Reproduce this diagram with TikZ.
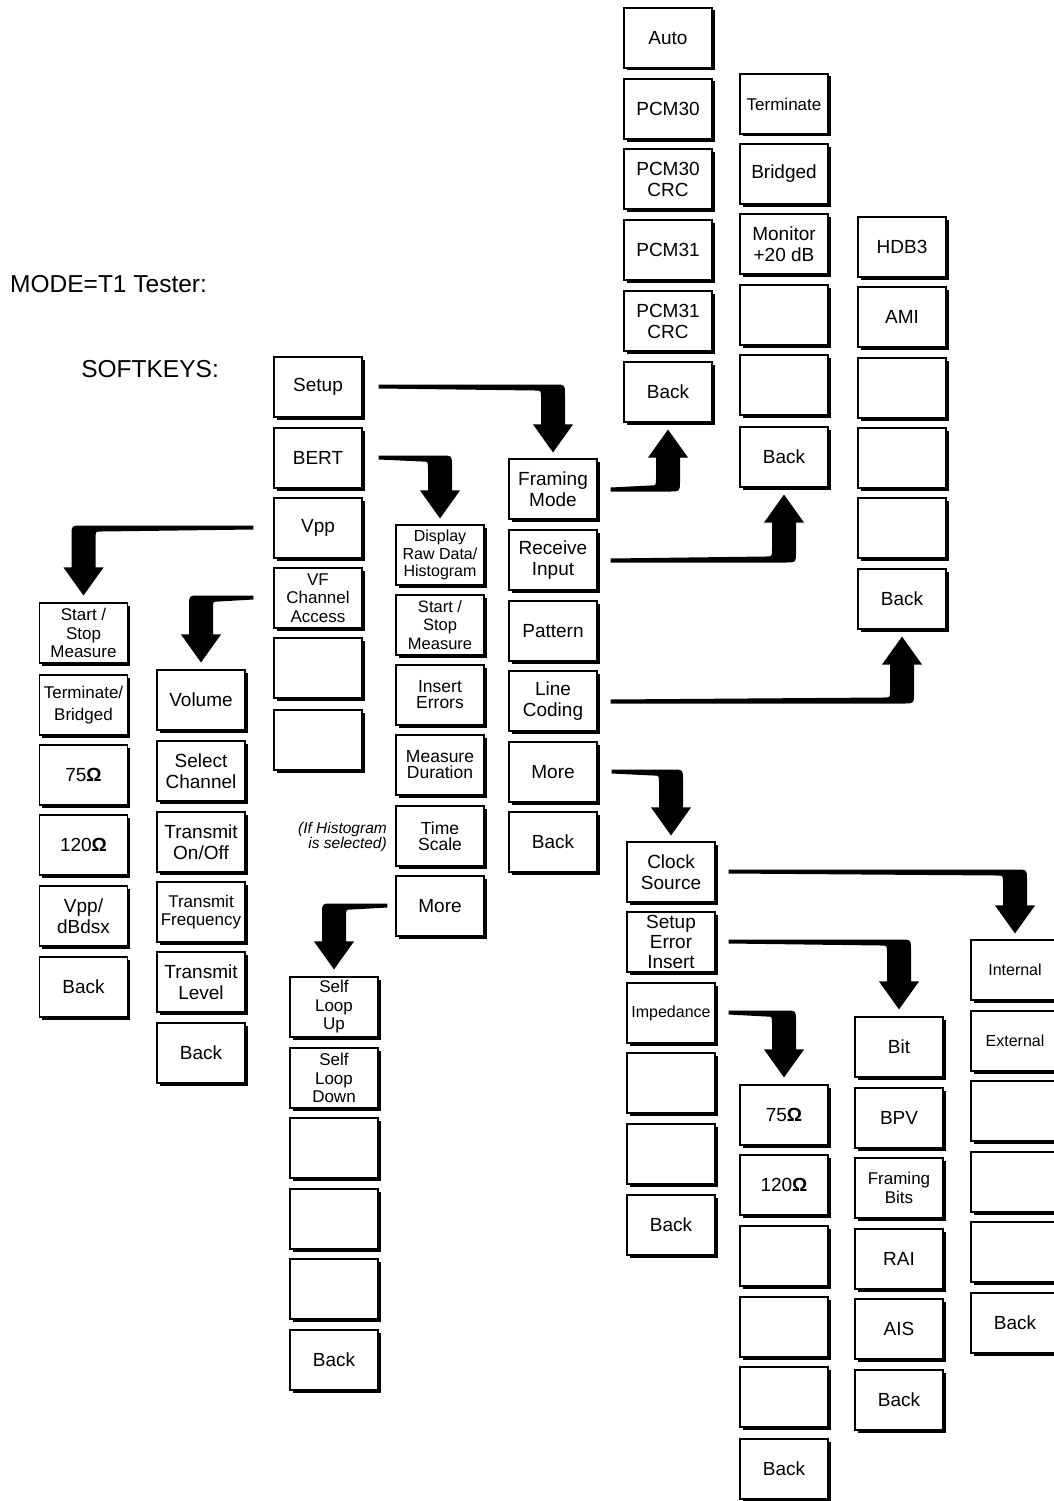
\documentclass[tikz,border=0pt]{standalone}
\usepackage{fontspec}
\setmainfont{Liberation Sans}
\usetikzlibrary{calc,shadows}
% block arrow: #1 = horizontal sign (+1 right, -1 left), #2 = vertical sign (canvas: -1 down, +1 up), #3 start, #4 tip
\newcommand\barrow[4]{%
\fill let \p1=(#3), \p2=(#4) in
 (\x1,{\y1-(#2)*2.5pt}) -- ({\x2+(#1)*2pt},{\y1-(#2)*2.5pt})
 .. controls ({\x2+(#1)*12pt},{\y1-(#2)*2.5pt}) .. ({\x2+(#1)*12pt},{\y1+(#2)*8pt})
 -- ({\x2+(#1)*12pt},{\y2-(#2)*28pt}) -- ({\x2+(#1)*20pt},{\y2-(#2)*28pt}) -- (\x2,\y2)
 -- ({\x2-(#1)*20pt},{\y2-(#2)*28pt}) -- ({\x2-(#1)*12pt},{\y2-(#2)*28pt})
 -- ({\x2-(#1)*12pt},{\y1+(#2)*10pt})
 .. controls ({\x2-(#1)*12pt},{\y1+(#2)*3.5pt}) .. ({\x2-(#1)*18pt},{\y1+(#2)*3.5pt})
 -- (\x1,{\y1+(#2)*1.5pt}) -- cycle;}
\begin{document}
\begin{tikzpicture}[x=1pt,y=-1pt,
  key/.style={draw=black, line width=1.1pt, fill=white, minimum width=88pt, minimum height=60pt,
    inner sep=1pt, align=center,
    drop shadow={shadow xshift=2.5pt,shadow yshift=-2.5pt,opacity=1,fill=black},
    font=\fontsize{19}{21}\selectfont},
  small/.style={font=\fontsize{17}{18.5}\selectfont},
  smaller/.style={font=\fontsize{16}{17.5}\selectfont},
  tight/.style={font=\fontsize{17.5}{16}\selectfont},
  label/.style={font=\fontsize{24.5}{28}\selectfont, inner sep=0pt},
  note/.style={font=\fontsize{15.5}{13.5}\selectfont\itshape, align=right, inner sep=0pt}]
\useasboundingbox (0,0) rectangle (1053,1501);

\node[label, anchor=base west] (mode) at (10,292) {MODE=T1 Tester:};
\node[label, anchor=base east] (softkeys) at (219,377) {SOFTKEYS:};

% main softkeys
\node[key] (m1) at (318,387) {Setup};
\node[key] (m2) at (318,458) {BERT};
\node[key] (m3) at (318,528) {Vpp};
\node[key, small] (m4) at (318,598) {VF\\Channel\\Access};
\node[key] (m5) at (318,668) {};
\node[key] (m6) at (318,740) {};

% framing mode column
\node[key] (a1) at (668,38) {Auto};
\node[key] (a2) at (668,109) {PCM30};
\node[key] (a3) at (668,179) {PCM30\\CRC};
\node[key] (a4) at (668,250) {PCM31};
\node[key] (a5) at (668,321) {PCM31\\CRC};
\node[key] (a6) at (668,392) {Back};

% receive input column
\node[key, small] (t1) at (784,104) {Terminate};
\node[key] (t2) at (784,174) {Bridged};
\node[key] (t3) at (784,244) {Monitor\\+20 dB};
\node[key] (t4) at (784,315) {};
\node[key] (t5) at (784,385) {};
\node[key] (t6) at (784,457) {Back};

% line coding column
\node[key] (h1) at (902,247) {HDB3};
\node[key] (h2) at (902,317) {AMI};
\node[key] (h3) at (902,388) {};
\node[key] (h4) at (902,458) {};
\node[key] (h5) at (902,528) {};
\node[key] (h6) at (902,599) {Back};

% setup column
\node[key] (f1) at (553,489) {Framing\\Mode};
\node[key] (f2) at (553,560) {Receive\\Input};
\node[key] (f3) at (553,631) {Pattern};
\node[key] (f4) at (553,701) {Line\\Coding};
\node[key] (f5) at (553,772) {More};
\node[key] (f6) at (553,842) {Back};

% BERT column
\node[key, smaller] (b1) at (440,555) {Display\\Raw Data/\\Histogram};
\node[key, font=\fontsize{16.5}{18.5}\selectfont] (b2) at (440,625) {Start /\\Stop\\Measure};
\node[key, tight] (b3) at (440,695) {Insert\\Errors};
\node[key, tight] (b4) at (440,765) {Measure\\Duration};
\node[key, tight] (b5) at (440,836) {Time\\Scale};
\node[key] (b6) at (440,906) {More};
\node[note, anchor=north east] (hnote) at (387,822) {(If Histogram\\is selected)};

% Vpp column
\node[key, font=\fontsize{17}{18.5}\selectfont] (v1) at (83.5,633) {Start /\\Stop\\Measure};
\node[key, font=\fontsize{17}{21.5}\selectfont] (v2) at (83.5,705) {Terminate/\\Bridged};
\node[key] (v3) at (83.5,775) {75{\bfseries Ω}};
\node[key] (v4) at (83.5,845) {120{\bfseries Ω}};
\node[key] (v5) at (83.5,916) {Vpp/\\dBdsx};
\node[key] (v6) at (83.5,987) {Back};

% VF column
\node[key] (vf1) at (201,700) {Volume};
\node[key] (vf2) at (201,771) {Select\\Channel};
\node[key] (vf3) at (201,842) {Transmit\\On/Off};
\node[key, small] (vf4) at (201,912) {Transmit\\Frequency};
\node[key] (vf5) at (201,982) {Transmit\\Level};
\node[key] (vf6) at (201,1053) {Back};

% BERT more column
\node[key, small] (s1) at (334,1007) {Self\\Loop\\Up};
\node[key, small] (s2) at (334,1078) {Self\\Loop\\Down};
\node[key] (s3) at (334,1148) {};
\node[key] (s4) at (334,1219) {};
\node[key] (s5) at (334,1289) {};
\node[key] (s6) at (334,1360) {Back};

% setup more column
\node[key] (c1) at (671,872) {Clock\\Source};
\node[key, font=\fontsize{19}{20}\selectfont] (c2) at (671,942) {Setup\\Error\\Insert};
\node[key, smaller] (c3) at (671,1013) {Impedance};
\node[key] (c4) at (671,1083) {};
\node[key] (c5) at (671,1154) {};
\node[key] (c6) at (671,1225) {Back};

% impedance column
\node[key] (i1) at (784,1115) {75{\bfseries Ω}};
\node[key] (i2) at (784,1185) {120{\bfseries Ω}};
\node[key] (i3) at (784,1256) {};
\node[key] (i4) at (784,1327) {};
\node[key] (i5) at (784,1397) {};
\node[key] (i6) at (784,1469) {Back};

% error insert column
\node[key] (bt1) at (899,1047) {Bit};
\node[key] (bt2) at (899,1118) {BPV};
\node[key, small] (bt3) at (899,1188) {Framing\\Bits};
\node[key] (bt4) at (899,1259) {RAI};
\node[key] (bt5) at (899,1329) {AIS};
\node[key] (bt6) at (899,1400) {Back};

% clock source column
\node[key, smaller] (n1) at (1015,970) {Internal};
\node[key, smaller] (n2) at (1015,1041) {External};
\node[key] (n3) at (1015,1111) {};
\node[key] (n4) at (1015,1182) {};
\node[key] (n5) at (1015,1252) {};
\node[key] (n6) at (1015,1323) {Back};

% arrows
\barrow{1}{-1}{$(m1.east)+(16,0)$}{$(f1.north)+(0,-6)$}
\barrow{1}{-1}{$(m2.east)+(16,0)$}{$(b1.north)+(0,-6)$}
\barrow{-1}{-1}{$(m3.west)+(-20,0)$}{$(v1.north)+(0,-7)$}
\barrow{-1}{-1}{$(m4.west)+(-20,0)$}{$(vf1.north)+(0,-7)$}
\barrow{-1}{-1}{$(b6.west)+(-8,0)$}{$(s1.north)+(0,-7)$}
\barrow{1}{-1}{$(f5.east)+(14,0)$}{$(c1.north)+(0,-6)$}
\barrow{1}{-1}{$(c1.east)+(13,0)$}{$(n1.north)+(0,-6)$}
\barrow{1}{-1}{$(c2.east)+(13,0)$}{$(bt1.north)+(0,-7)$}
\barrow{1}{-1}{$(c3.east)+(13,0)$}{$(i1.north)+(0,-7)$}
\barrow{1}{1}{$(f1.east)+(13,0)$}{$(a6.south)+(0,7)$}
\barrow{1}{1}{$(f2.east)+(13,0)$}{$(t6.south)+(0,7)$}
\barrow{1}{1}{$(f4.east)+(13,0)$}{$(h6.south)+(0,7)$}
\end{tikzpicture}
\end{document}
